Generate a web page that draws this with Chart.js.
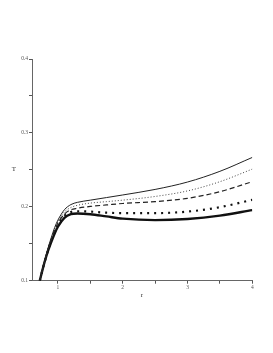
<!DOCTYPE html>
<html>
<head>
<meta charset="utf-8">
<script src="https://cdn.jsdelivr.net/npm/chart.js@4.4.0/dist/chart.umd.min.js"></script>
<style>
  html, body { margin: 0; padding: 0; background: #fff; }
  canvas { display: block; }
</style>
</head>
<body>
<canvas id="grafic" width="273" height="353"></canvas>
<script>
// Date
const razaR = [0.72, 0.76, 0.8, 0.85, 0.9, 0.95, 1.0, 1.1, 1.2, 1.3, 1.5, 1.75, 2, 2.5, 3, 3.5, 4];
const curbaA = [0.100, 0.115, 0.129, 0.145, 0.159, 0.172, 0.182, 0.196, 0.203, 0.206, 0.209, 0.2125, 0.216, 0.2235, 0.2335, 0.248, 0.2668];
const curbaB = [0.100, 0.115, 0.128, 0.144, 0.158, 0.170, 0.180, 0.193, 0.199, 0.202, 0.205, 0.207, 0.209, 0.214, 0.2215, 0.234, 0.251];
const curbaC = [0.100, 0.114, 0.128, 0.143, 0.156, 0.168, 0.178, 0.190, 0.196, 0.198, 0.2005, 0.2025, 0.2045, 0.207, 0.2115, 0.2205, 0.234];
const curbaD = [0.100, 0.114, 0.127, 0.142, 0.155, 0.166, 0.176, 0.188, 0.193, 0.194, 0.1935, 0.192, 0.1915, 0.1915, 0.1935, 0.1995, 0.2095];
const curbaE = [0.100, 0.114, 0.127, 0.141, 0.153, 0.164, 0.173, 0.185, 0.190, 0.191, 0.190, 0.187, 0.184, 0.182, 0.1835, 0.188, 0.1955];

const tickuriX = [1, 1.5, 2, 2.5, 3, 3.5, 4];
const tickuriY = [0.1, 0.15, 0.2, 0.25, 0.3, 0.35, 0.4];
const etichetaX = "r";
const etichetaY = "T";

function puncte(v) {
    return razaR.map((r, i) => ({ x: r, y: v[i] }));
}

function serie(v, latime, dash, culoare) {
    return {
        data: puncte(v),
        borderColor: culoare,
        borderWidth: latime,
        borderDash: dash,
        pointRadius: 0,
        cubicInterpolationMode: 'monotone',
        fill: false
    };
}

// Titluri axe (orizontale, ca in Maple)
const titluriAxe = {
    id: 'titluriAxe',
    afterDraw(chart) {
        const ctx = chart.ctx;
        ctx.save();
        ctx.fillStyle = '#333';
        ctx.font = '7px "Liberation Serif"';
        ctx.textAlign = 'center';
        ctx.textBaseline = 'middle';
        ctx.fillText(etichetaY, 14, 169);
        ctx.fillText(etichetaX, 142, 295);
        ctx.restore();
    }
};

const fontTick = { family: '"Liberation Serif"', size: 5.5 };

new Chart(document.getElementById('grafic').getContext('2d'), {
    type: 'line',
    data: {
        datasets: [
            serie(curbaA, 1, [], '#222'),
            serie(curbaB, 1, [1, 2], '#444'),
            serie(curbaC, 1.2, [5, 3], '#222'),
            serie(curbaD, 2.2, [2, 5], '#111'),
            serie(curbaE, 2.4, [], '#111')
        ]
    },
    options: {
        responsive: false,
        animation: false,
        devicePixelRatio: 1,
        layout: { padding: { left: 0, right: 20.7, top: 59, bottom: 0 } },
        plugins: { legend: { display: false }, tooltip: { enabled: false } },
        scales: {
            x: {
                type: 'linear',
                min: 0.6,
                max: 4,
                afterBuildTicks: ax => { ax.ticks = tickuriX.map(v => ({ value: v })); },
                afterFit: ax => { ax.height = 72.3; },
                ticks: {
                    font: fontTick,
                    color: '#555',
                    padding: 1,
                    maxRotation: 0,
                    autoSkip: false,
                    callback: v => Number.isInteger(v) ? String(v) : ''
                },
                grid: { drawOnChartArea: false, tickLength: 3, color: '#555' },
                border: { color: '#666', width: 1 }
            },
            y: {
                min: 0.1,
                max: 0.4,
                afterBuildTicks: ax => { ax.ticks = tickuriY.map(v => ({ value: v })); },
                afterFit: ax => { ax.width = 32; },
                ticks: {
                    font: fontTick,
                    color: '#555',
                    padding: 1,
                    autoSkip: false,
                    callback: v => (Math.round(v * 100) % 10 === 0) ? v.toFixed(1) : ''
                },
                grid: { drawOnChartArea: false, tickLength: 3, color: '#555' },
                border: { color: '#666', width: 1 }
            }
        }
    },
    plugins: [titluriAxe]
});
</script>
</body>
</html>
